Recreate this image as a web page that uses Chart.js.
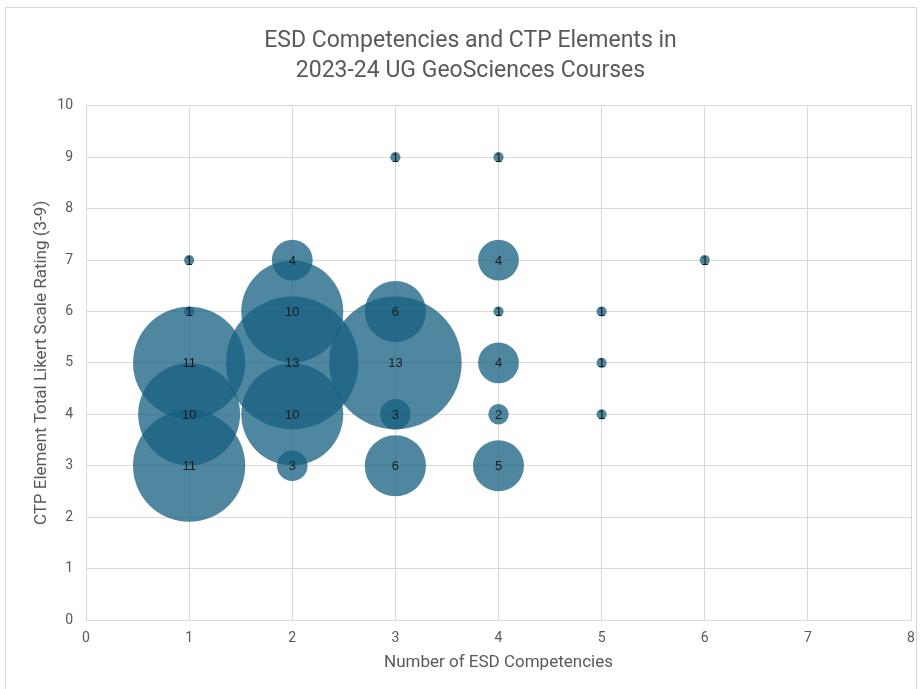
<!DOCTYPE html>
<html>
<head>
<meta charset="utf-8">
<script src="https://cdn.jsdelivr.net/npm/chart.js@4.4.1/dist/chart.umd.min.js"></script>
<style>
  html, body { margin: 0; padding: 0; background: #fff; }
  #frame { position: absolute; left: 5px; top: 7px; width: 912px; height: 700px; border: 1px solid #d9d9d9; box-sizing: border-box; }
  #wrap { position: absolute; left: 0; top: 0; width: 920px; height: 689px; }
</style>
</head>
<body>
<div id="frame"></div>
<div id="wrap"><canvas id="bubbleChart" width="920" height="689"></canvas></div>
<script>
// number of ESD competencies, CTP rating, number of courses
const competencies = [1, 1, 1, 1, 1, 2, 2, 2, 2, 2, 3, 3, 3, 3, 3, 4, 4, 4, 4, 4, 4, 5, 5, 5, 6];
const ratings      = [3, 4, 5, 6, 7, 3, 4, 5, 6, 7, 3, 4, 5, 6, 9, 3, 4, 5, 6, 7, 9, 4, 5, 6, 7];
const courses      = [11, 10, 11, 1, 1, 3, 10, 13, 10, 4, 6, 3, 13, 6, 1, 5, 2, 4, 1, 4, 1, 1, 1, 1, 1];

const xTicks = [0, 1, 2, 3, 4, 5, 6, 7, 8];
const yTicks = [0, 1, 2, 3, 4, 5, 6, 7, 8, 9, 10];

const textColor = '#595959';
const fontFamily = '"Roboto", sans-serif';

const points = competencies.map((x, i) => ({ x: x, y: ratings[i], r: courses[i] * 5.1 }));

// write the course count in the middle of each bubble
const bubbleLabels = {
  id: 'bubbleLabels',
  afterDatasetsDraw(chart) {
    const ctx = chart.ctx;
    const meta = chart.getDatasetMeta(0);
    ctx.save();
    ctx.font = '13px "Liberation Sans", "Roboto", sans-serif';
    ctx.fillStyle = '#1a1a1a';
    ctx.textAlign = 'center';
    ctx.textBaseline = 'middle';
    meta.data.forEach((el, i) => {
      ctx.fillText(String(courses[i]), el.x, el.y + 1);
    });
    ctx.restore();
  }
};

const ctx = document.getElementById('bubbleChart').getContext('2d');
new Chart(ctx, {
  type: 'bubble',
  data: {
    datasets: [{
      label: 'Courses',
      data: points,
      backgroundColor: 'rgba(22, 95, 128, 0.75)',
      borderWidth: 0,
      hoverBorderWidth: 0
    }]
  },
  options: {
    responsive: false,
    animation: false,
    layout: { autoPadding: false, padding: { top: 10, right: 9, left: 30, bottom: 0 } },
    plugins: {
      legend: { display: false },
      tooltip: { enabled: false },
      title: {
        display: true,
        text: ['ESD Competencies and CTP Elements in', '2023-24 UG GeoSciences Courses'],
        color: textColor,
        font: { family: fontFamily, size: 23, weight: 'normal', lineHeight: 1.3 },
        padding: { top: 16, bottom: 20 }
      }
    },
    scales: {
      x: {
        type: 'linear',
        min: 0,
        max: 8,
        afterBuildTicks: scale => { scale.ticks = xTicks.map(v => ({ value: v })); },
        afterFit: scale => { scale.height = 69; scale.paddingRight = 0; scale.paddingLeft = 0; },
        grid: { color: '#d9d9d9', drawTicks: false },
        border: { color: '#d9d9d9' },
        ticks: { color: textColor, padding: 10, font: { family: fontFamily, size: 14 } },
        title: {
          display: true,
          text: 'Number of ESD Competencies',
          color: textColor,
          font: { family: fontFamily, size: 17 },
          padding: { top: 0, bottom: 16 }
        }
      },
      y: {
        type: 'linear',
        min: 0,
        max: 10,
        afterBuildTicks: scale => { scale.ticks = yTicks.map(v => ({ value: v })); },
        afterFit: scale => { scale.width = 56; },
        grid: { color: '#d9d9d9', drawTicks: false },
        border: { color: '#d9d9d9' },
        ticks: { color: textColor, padding: 13, font: { family: fontFamily, size: 14 } },
        title: {
          display: true,
          text: 'CTP Element Total Likert Scale Rating (3-9)',
          color: textColor,
          font: { family: fontFamily, size: 17 },
          padding: { top: 2, bottom: 0 }
        }
      }
    }
  },
  plugins: [bubbleLabels]
});
</script>
</body>
</html>
